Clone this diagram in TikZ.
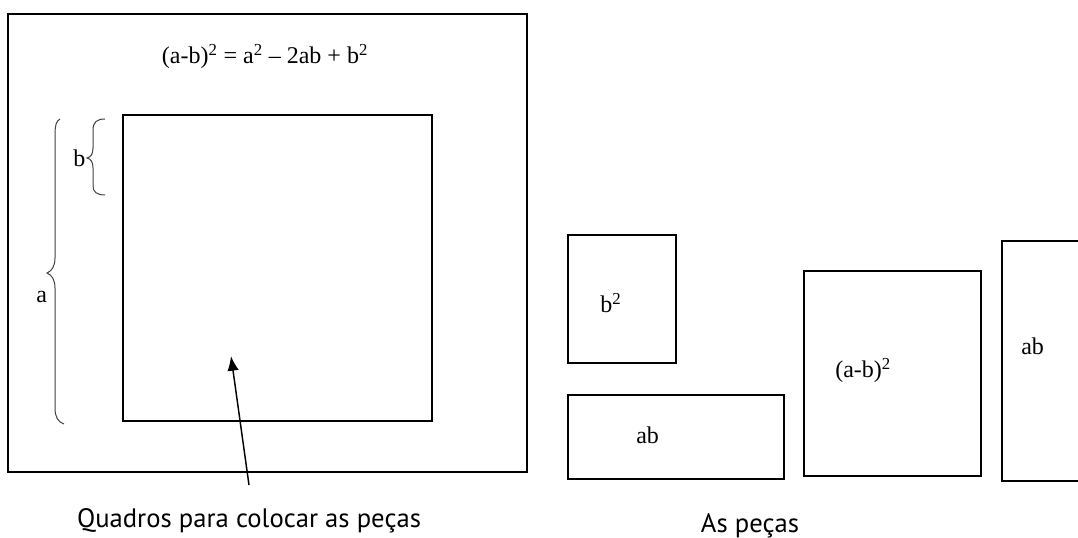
\documentclass[tikz,border=0pt]{standalone}
\usepackage{fontspec}
\setmainfont{Liberation Serif}
\newfontfamily\capfont{PT Sans}
\usetikzlibrary{arrows.meta}
\tikzset{
  box/.style={draw=black, line width=1.5pt, inner sep=0pt, fill=none},
  lbl/.style={inner sep=0pt, font=\fontsize{18pt}{20pt}\selectfont},
  captext/.style={inner sep=0pt, font=\capfont\fontsize{20pt}{24pt}\selectfont},
  brace/.style={draw=black!75, line width=0.75pt},
  pointer/.style={draw=black, line width=1.1pt, -{Latex[length=11pt,width=8.5pt]}}
}
\newcommand{\sq}{\textsuperscript{2}}
\begin{document}
\begin{tikzpicture}[x=0.75pt,y=-0.75pt]
\useasboundingbox (0,0) rectangle (1078,538);
\begin{scope}
\clip (0,0) rectangle (1078,538);
% left frame
\node[box, minimum width=519*0.75pt, minimum height=458*0.75pt] (outer) at (267.5,243) {};
\node[box, minimum width=309*0.75pt, minimum height=306*0.75pt] (inner) at (277.5,268) {};
\node[lbl, anchor=base] (formula) at (265,64) {(a-b)\sq{} = a\sq{} – 2ab + b\sq};
% braces
\draw[brace] (60,119) .. controls (56,121) and (55,126) .. (55,135) -- (55,258)
  .. controls (55,266) and (52,271) .. (47,273) .. controls (52,275) and (55,280) .. (55,288)
  -- (55,408) .. controls (55,417) and (58,422) .. (64,424);
\draw[brace] (105,119) .. controls (97,119) and (93,122) .. (93,130) -- (93,148)
  .. controls (93,154) and (91,157) .. (87,158) .. controls (91,159) and (93,162) .. (93,168)
  -- (93,186) .. controls (93,192) and (97,195) .. (105,195);
\node[lbl, anchor=base west] (lb) at (73,167) {b};
\node[lbl, anchor=base west] (la) at (36,303) {a};
% arrow
\coordinate (tail) at (249,485);
\coordinate (tip) at (231,356);
\draw[pointer] (tail) -- (tip);
\node[captext, anchor=base] (quadros) at (249,527) {Quadros para colocar as peças};
% pieces
\node[box, minimum width=108.5*0.75pt, minimum height=128*0.75pt] (pb2) at (621.75,299) {};
\node[lbl, anchor=base west] (tb2) at (600,313) {b\sq};
\node[box, minimum width=216.5*0.75pt, minimum height=84*0.75pt] (pab1) at (675.75,437) {};
\node[lbl, anchor=base west] (tab1) at (636,443) {ab};
\node[box, minimum width=177*0.75pt, minimum height=205*0.75pt] (pamb) at (892.5,373.5) {};
\node[lbl, anchor=base west] (tamb) at (835,378) {(a-b)\sq};
\node[box, minimum width=98*0.75pt, minimum height=240*0.75pt] (pab2) at (1051,361) {};
\node[lbl, anchor=base west] (tab2) at (1021,354) {ab};
\node[captext, anchor=base] (pecas) at (750,532) {As peças};
\end{scope}
\end{tikzpicture}
\end{document}
